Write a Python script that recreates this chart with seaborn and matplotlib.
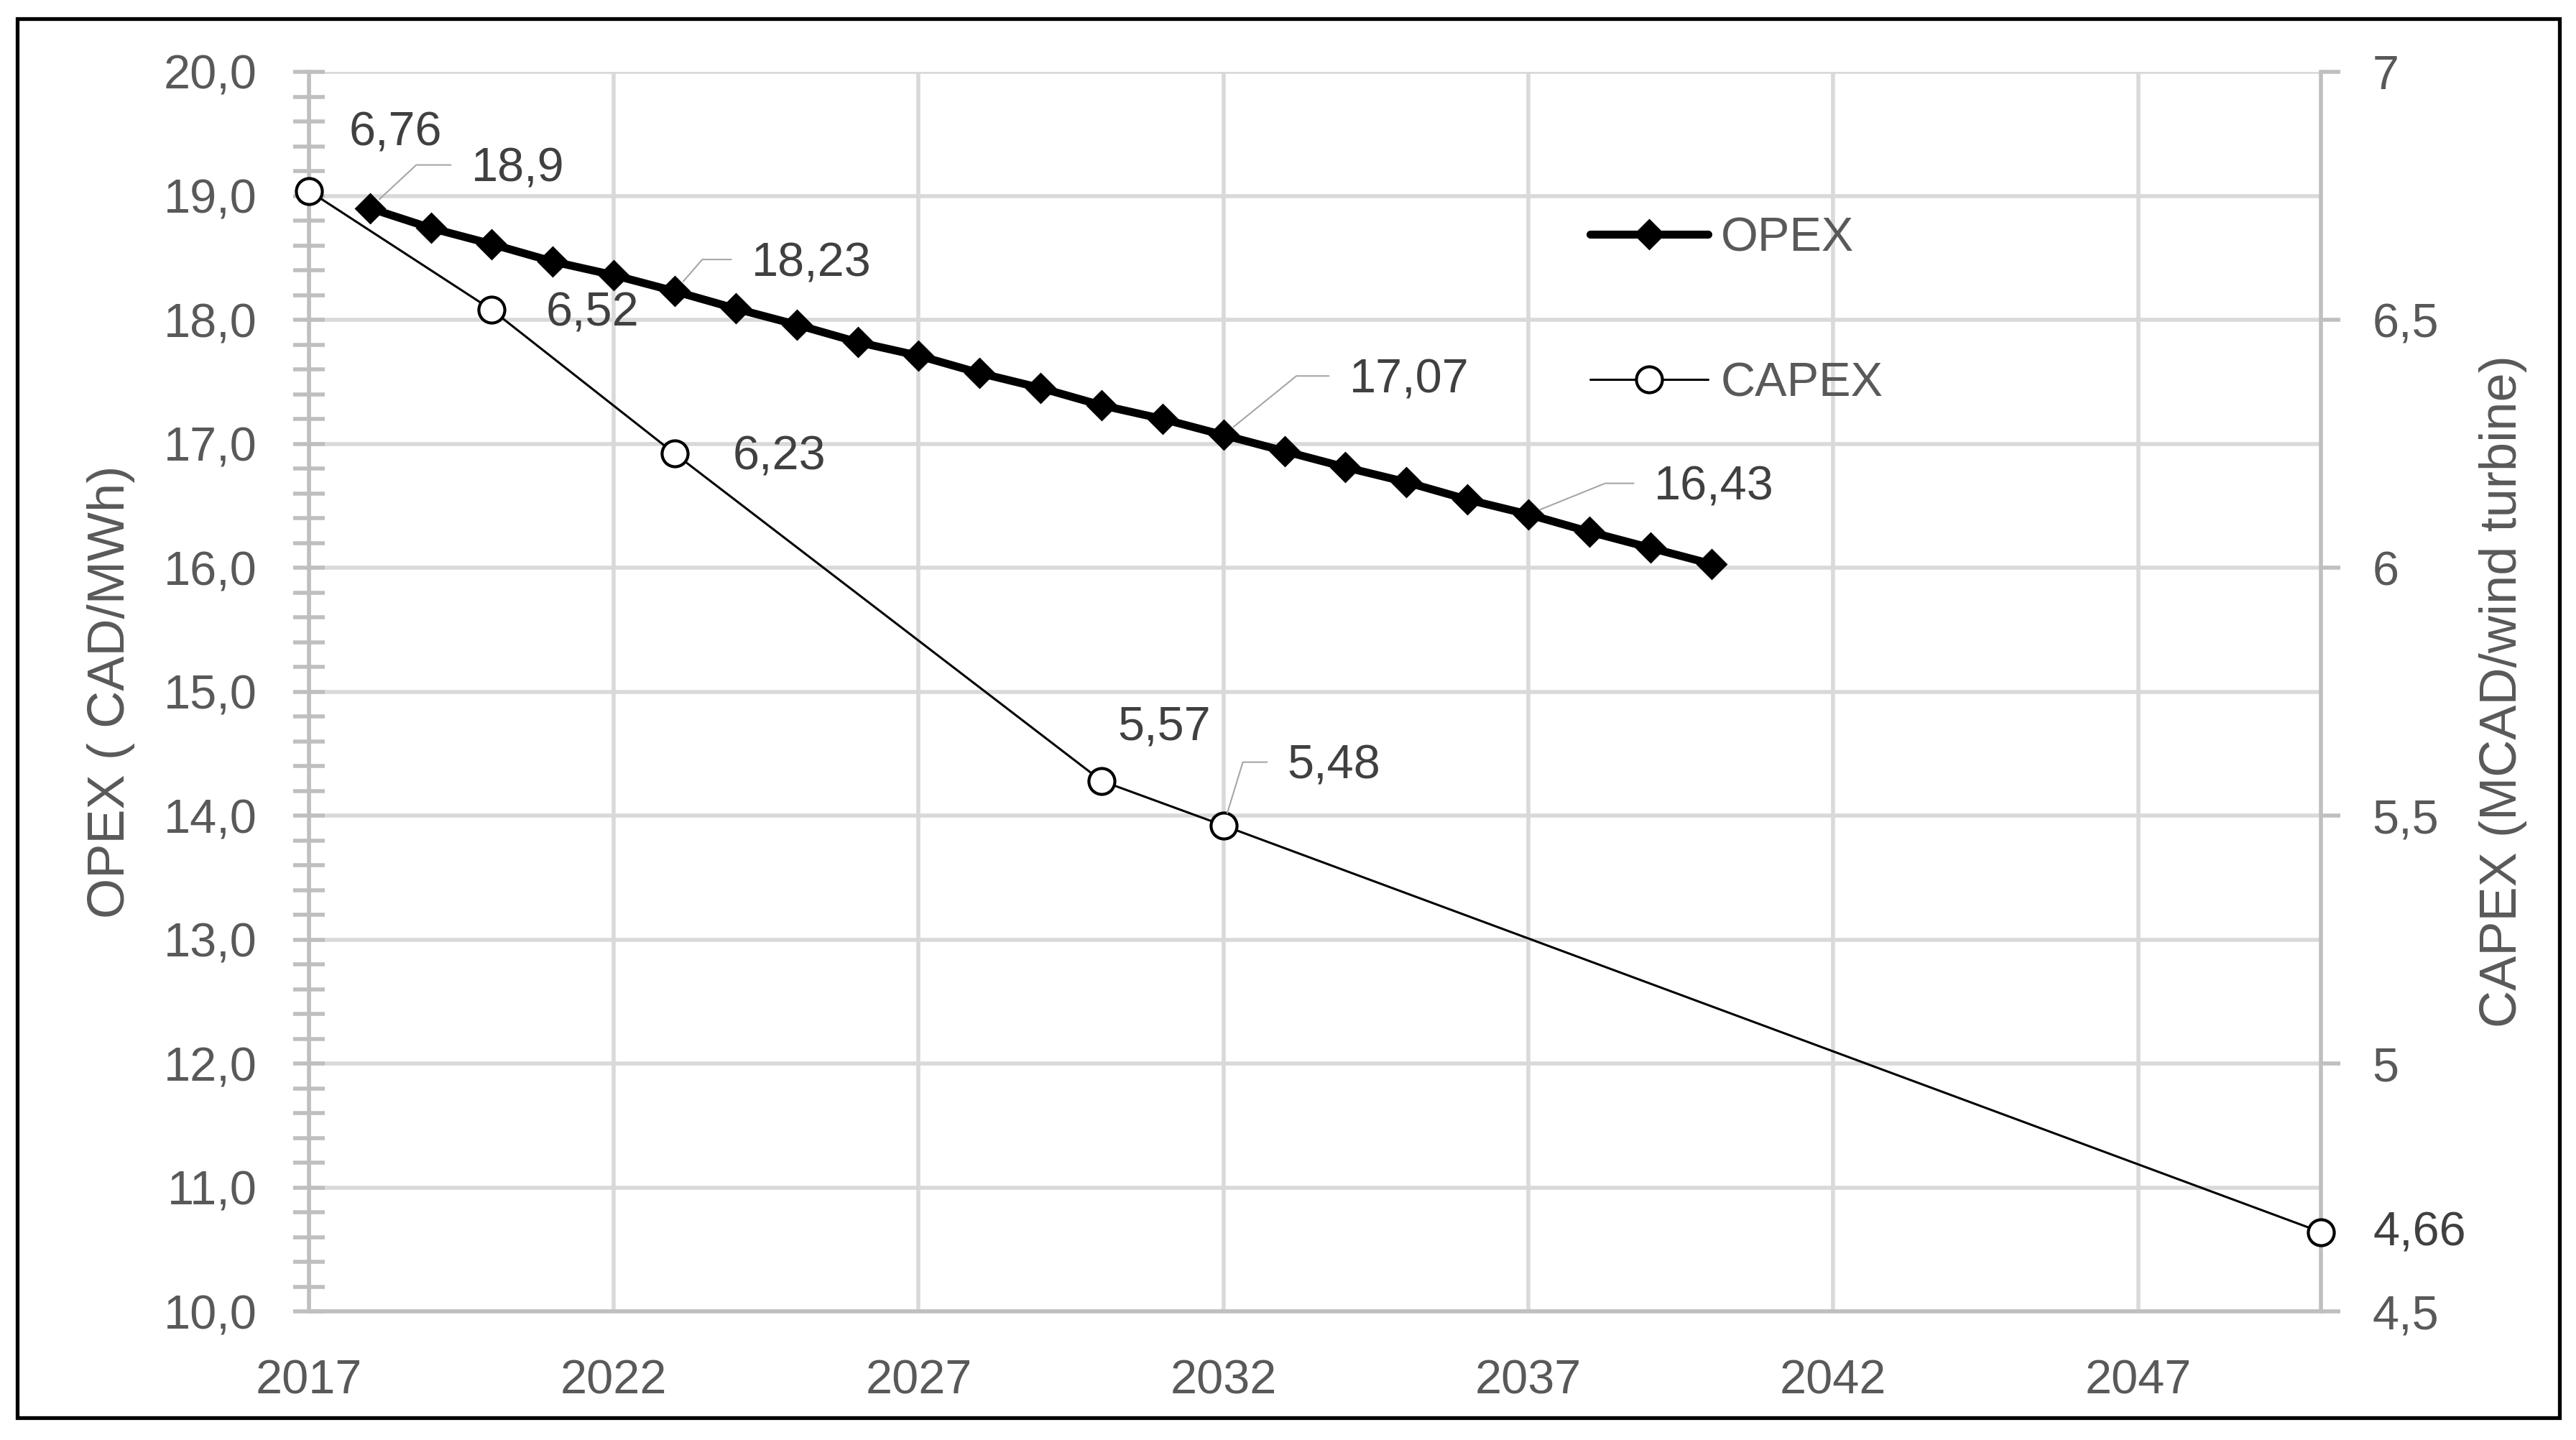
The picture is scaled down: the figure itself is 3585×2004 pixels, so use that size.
import matplotlib
matplotlib.use("Agg")
import pandas as pd
import matplotlib.pyplot as plt
import seaborn as sns
from matplotlib.ticker import MultipleLocator, FuncFormatter
from matplotlib.patches import Rectangle

# OPEX (CAD/MWh), one point per year 2018-2040
opex_years = list(range(2018, 2041))
opex_values = [18.90, 18.74, 18.61, 18.47, 18.36, 18.23, 18.09, 17.96, 17.82, 17.71,
               17.57, 17.45, 17.31, 17.20, 17.07, 16.94, 16.81, 16.69, 16.55, 16.43,
               16.29, 16.16, 16.03]

# CAPEX (MCAD/wind turbine)
capex_years = [2017, 2020, 2023, 2030, 2032, 2050]
capex_values = [6.76, 6.52, 6.23, 5.57, 5.48, 4.66]

x_ticks = [2017, 2022, 2027, 2032, 2037, 2042, 2047]
opex_ticks = [10, 11, 12, 13, 14, 15, 16, 17, 18, 19, 20]
capex_ticks = [4.5, 5, 5.5, 6, 6.5, 7]

# which points get a data label
opex_labelled = [2018, 2023, 2032, 2037]
capex_labelled = [2017, 2020, 2023, 2030, 2032, 2050]

sns.set_style("white")
plt.rcParams["font.family"] = ["Liberation Sans", "DejaVu Sans"]
plt.rcParams["font.size"] = 48

GRID = "#D9D9D9"
AXIS = "#BFBFBF"
TXT = "#595959"
LBL = "#404040"

fig, ax = plt.subplots(figsize=(35.85, 20.04), dpi=100)
fig.subplots_adjust(left=0.1199, right=0.9010, bottom=0.0893, top=0.9501)
ax2 = ax.twinx()

opex = pd.DataFrame({"year": opex_years, "value": opex_values})
capex = pd.DataFrame({"year": capex_years, "value": capex_values})

sns.lineplot(data=opex, x="year", y="value", ax=ax, color="black", linewidth=8,
             marker="D", markersize=20, markeredgecolor="black", markeredgewidth=2,
             legend=False, clip_on=False, zorder=3)
sns.lineplot(data=capex, x="year", y="value", ax=ax2, color="black", linewidth=2.2,
             marker="o", markersize=26, markerfacecolor="white",
             markeredgecolor="black", markeredgewidth=3,
             legend=False, clip_on=False, zorder=3)

# axes ranges and ticks
ax.set_xlim(2017, 2050)
ax.set_ylim(10, 20)
ax2.set_ylim(4.5, 7)
ax.set_xticks(x_ticks)
ax.set_yticks(opex_ticks)
ax.yaxis.set_minor_locator(MultipleLocator(0.2))
ax2.set_yticks(capex_ticks)
ax.yaxis.set_major_formatter(FuncFormatter(lambda v, p: f"{v:.1f}".replace(".", ",")))
ax2.yaxis.set_major_formatter(FuncFormatter(lambda v, p: f"{v:g}".replace(".", ",")))
ax.set_xlabel("")
ax.set_ylabel("")
ax2.set_ylabel("")

ax.grid(True, which="major", color=GRID, linewidth=4)
ax.grid(False, which="minor")
ax2.grid(False)
ax.set_axisbelow(True)

for s in ["top", "right"]:
    ax.spines[s].set_visible(False)
for s in ["top", "left", "bottom"]:
    ax2.spines[s].set_visible(False)
for s in [ax.spines["left"], ax.spines["bottom"], ax2.spines["right"]]:
    s.set_color(AXIS)
    s.set_linewidth(4)

ax.tick_params(axis="y", which="both", direction="inout", length=32, width=4,
               color=AXIS, labelcolor=TXT, pad=36, labelsize=48)
ax.tick_params(axis="x", length=0, pad=48, labelcolor=TXT, labelsize=48)
ax2.tick_params(axis="y", direction="out", length=19.5, width=4, color=AXIS,
                labelcolor=TXT, pad=32, labelsize=48)

# axis titles
ax.text(-0.0982, 0.5, "OPEX ( CAD/MWh)", transform=ax.transAxes, rotation=90,
        ha="center", va="center", color=TXT, fontsize=52)
ax.text(1.0904, 0.5, "CAPEX (MCAD/wind turbine)", transform=ax.transAxes, rotation=90,
        ha="center", va="center", color=TXT, fontsize=52)


def put_label(axis, x, y, dx, dy, angle=None):
    text = f"{y:g}".replace(".", ",")
    props = None
    if angle is not None:
        props = dict(arrowstyle="-", color="#A6A6A6", lw=1.5, shrinkA=18, shrinkB=13,
                     relpos=(0, 0.6),
                     connectionstyle=f"angle,angleA=0,angleB={angle},rad=0")
    axis.annotate(text, xy=(x, y), xytext=(dx, dy - 24), textcoords="offset pixels",
                  ha="left", va="baseline", color=LBL, fontsize=48,
                  arrowprops=props, annotation_clip=False, zorder=5)


# offsets in pixels from the point (text left edge, text middle)
opex_offsets = {2018: (141, 61, 43), 2023: (107, 45, 49), 2032: (175, 83, 39), 2037: (175, 44, 22)}
capex_offsets = {2017: (56, 87, None), 2020: (75, 2, None), 2023: (81, 2, None),
                 2030: (22, 81, None), 2032: (89, 89, 73), 2050: (72, 5, None)}

for yr in opex_labelled:
    dx, dy, ang = opex_offsets[yr]
    put_label(ax, yr, opex_values[opex_years.index(yr)], dx, dy, ang)
for yr in capex_labelled:
    dx, dy, ang = capex_offsets[yr]
    put_label(ax2, yr, capex_values[capex_years.index(yr)], dx, dy, ang)

# legend
ax2.legend([ax.lines[0], ax2.lines[0]], ["OPEX", "CAPEX"], loc="upper left",
           bbox_to_anchor=(0.6368, 0.883), frameon=False, handlelength=2.46,
           handletextpad=0.27, labelspacing=2.1, borderpad=0, borderaxespad=0,
           fontsize=48, labelcolor=TXT)

# black frame round the whole chart
fig.patches.append(Rectangle((0.0067, 0.0155), 0.9869, 0.9715, transform=fig.transFigure,
                             fill=False, edgecolor="black", linewidth=3.8))

fig.savefig("out.png", dpi=100)
